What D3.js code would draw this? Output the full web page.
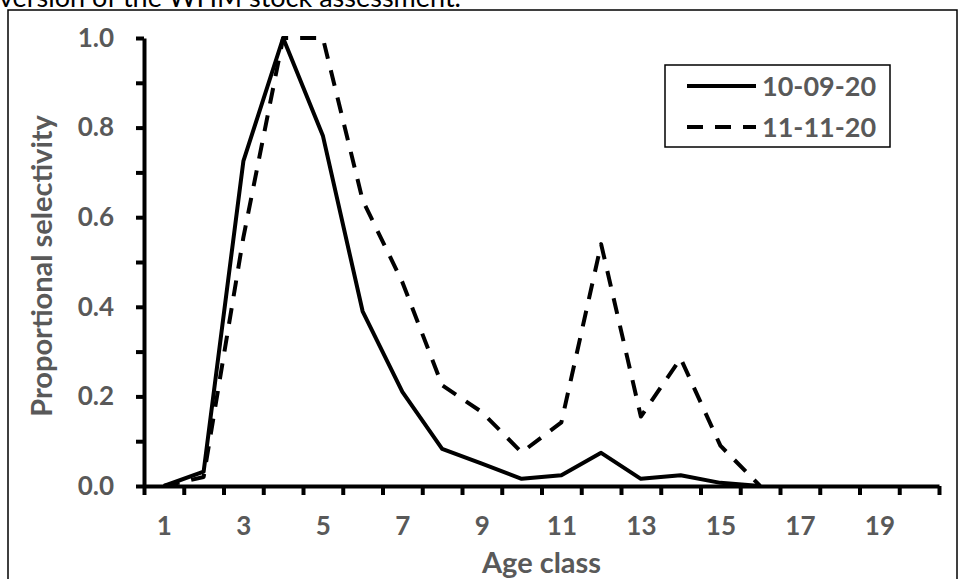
<!DOCTYPE html>
<html>
<head>
<meta charset="utf-8">
<script src="https://cdn.jsdelivr.net/npm/d3@7"></script>
<style>
  body { margin: 0; background: #fff; }
  svg { display: block; }
</style>
</head>
<body>
<script>
// chart data
const ages = [1, 2, 3, 4, 5, 6, 7, 8, 9, 10, 11, 12, 13, 14, 15, 16];
const sel_100920 = [0.0, 0.032, 0.725, 1.0, 0.782, 0.39, 0.21, 0.083, 0.05, 0.016, 0.024, 0.074, 0.016, 0.024, 0.007, 0.0];
const sel_111120 = [0.0, 0.02, 0.555, 1.0, 1.0, 0.638, 0.455, 0.225, 0.165, 0.075, 0.142, 0.54, 0.155, 0.285, 0.09, 0.0];
const seriesNames = ["10-09-20", "11-11-20"];
const xTickLabels = [1, 3, 5, 7, 9, 11, 13, 15, 17, 19];
const yTicks = [0, 0.1, 0.2, 0.3, 0.4, 0.5, 0.6, 0.7, 0.8, 0.9, 1.0];

const width = 960, height = 579;
const textGrey = "#595959";
const font = "Lato, 'Open Sans', sans-serif";

const svg = d3.select("body").append("svg")
  .attr("width", width)
  .attr("height", height);

// caption line cut off at the top
svg.append("text")
  .attr("x", -1)
  .attr("y", 7)
  .attr("font-family", font)
  .attr("font-size", 27)
  .attr("fill", "#000")
  .text("version of the WHM stock assessment.");

// outer frame
svg.append("rect")
  .attr("x", 8)
  .attr("y", 10)
  .attr("width", 949)
  .attr("height", 600)
  .attr("fill", "none")
  .attr("stroke", "#000")
  .attr("stroke-width", 1.5);

// scales: categories 1..20, one band each
const x = d3.scaleLinear().domain([0.5, 20.5]).range([144, 939]);
const y = d3.scaleLinear().domain([0, 1]).range([486, 38]);

// x axis: ticks on category boundaries
const bounds = d3.range(0.5, 21, 1);
const xAxis = svg.append("g")
  .attr("transform", `translate(0,${y(0)})`)
  .call(d3.axisBottom(x).tickValues(bounds).tickFormat("").tickSizeInner(9).tickSizeOuter(0));
xAxis.select(".domain").attr("stroke", "#000").attr("stroke-width", 4);
xAxis.selectAll(".tick line").attr("stroke", "#000").attr("stroke-width", 4);

const xLab = svg.append("g")
  .attr("transform", `translate(0,${y(0)})`)
  .call(d3.axisBottom(x).tickValues(xTickLabels).tickFormat(d3.format("d")).tickSize(0));
xLab.select(".domain").remove();
xLab.selectAll("text")
  .attr("y", 49)
  .attr("dy", 0)
  .attr("font-family", font)
  .attr("font-size", 26)
  .attr("font-weight", "bold")
  .attr("fill", textGrey);

// y axis
const yAxis = svg.append("g")
  .attr("transform", `translate(${x(0.5)},0)`)
  .call(d3.axisLeft(y).tickValues(yTicks)
    .tickFormat(d => (Math.round(d * 10) % 2 === 0) ? d3.format(".1f")(d) : "")
    .tickSizeInner(8).tickSizeOuter(0).tickPadding(22));
yAxis.select(".domain").attr("stroke", "#000").attr("stroke-width", 4);
yAxis.selectAll(".tick line").attr("stroke", "#000").attr("stroke-width", 4);
yAxis.selectAll("text")
  .attr("font-family", font)
  .attr("font-size", 26)
  .attr("font-weight", "bold")
  .attr("fill", textGrey);

// axis titles
svg.append("text")
  .attr("x", (x(0.5) + x(20.5)) / 2)
  .attr("y", 573)
  .attr("text-anchor", "middle")
  .attr("font-family", font)
  .attr("font-size", 29)
  .attr("font-weight", "bold")
  .attr("fill", textGrey)
  .text("Age class");

svg.append("text")
  .attr("transform", `translate(52,266) rotate(-90)`)
  .attr("text-anchor", "middle")
  .attr("font-family", font)
  .attr("font-size", 29)
  .attr("font-weight", "bold")
  .attr("fill", textGrey)
  .text("Proportional selectivity");

// lines
const line = d3.line()
  .x(d => x(d[0]))
  .y(d => y(d[1]));

const series = [
  { name: seriesNames[0], values: ages.map((a, i) => [a, sel_100920[i]]), dash: null },
  { name: seriesNames[1], values: ages.map((a, i) => [a, sel_111120[i]]), dash: "16,12" }
];

svg.selectAll("path.series")
  .data(series)
  .enter()
  .append("path")
  .attr("class", "series")
  .attr("d", d => line(d.values))
  .attr("fill", "none")
  .attr("stroke", "#000")
  .attr("stroke-width", 4)
  .attr("stroke-linejoin", "round")
  .attr("stroke-dasharray", d => d.dash);

// legend
const legend = svg.append("g").attr("transform", "translate(665,65)");
legend.append("rect")
  .attr("width", 225)
  .attr("height", 82)
  .attr("fill", "#fff")
  .attr("stroke", "#000")
  .attr("stroke-width", 1.5);

const item = legend.selectAll("g.item")
  .data(series)
  .enter()
  .append("g")
  .attr("class", "item")
  .attr("transform", (d, i) => `translate(0,${21 + i * 41})`);

item.append("line")
  .attr("x1", 22)
  .attr("x2", 91)
  .attr("stroke", "#000")
  .attr("stroke-width", 4)
  .attr("stroke-dasharray", d => d.dash);

item.append("text")
  .attr("x", 97)
  .attr("y", 10)
  .attr("font-family", font)
  .attr("font-size", 27)
  .attr("font-weight", "bold")
  .attr("fill", textGrey)
  .text(d => d.name);
</script>
</body>
</html>
